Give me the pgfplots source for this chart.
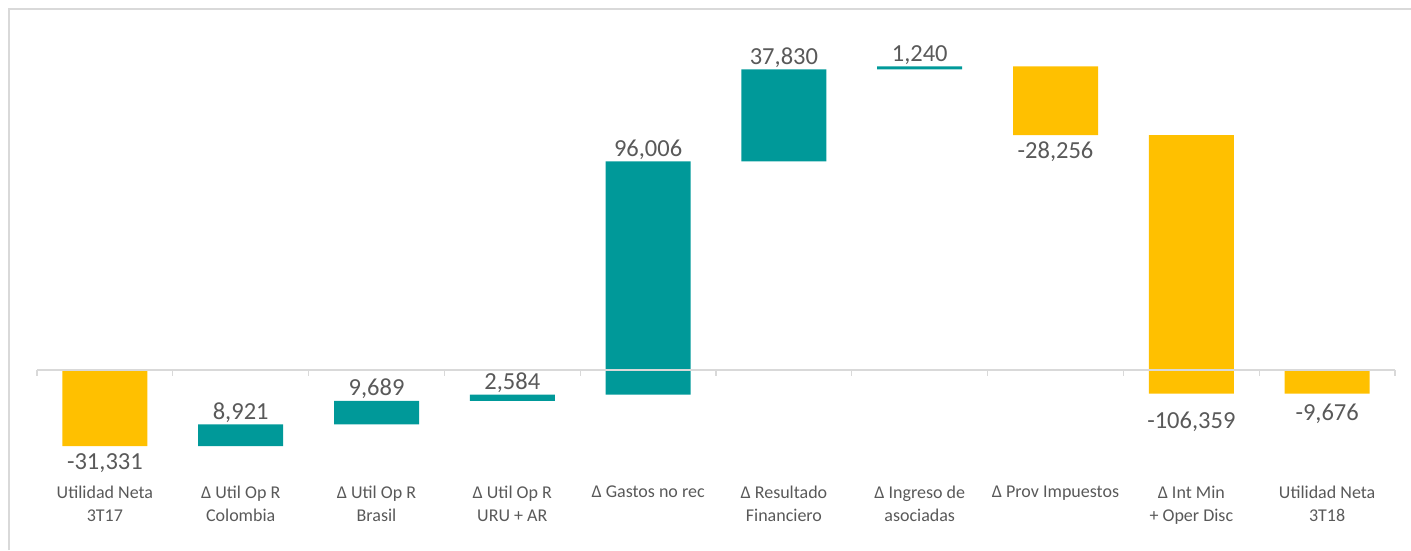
\documentclass[border=0pt]{standalone}
\usepackage{pgfplots}
\usepackage{pgfplotstable}
\pgfplotsset{compat=1.18}
\usepackage{fontspec}
\setmainfont{Carlito}
\definecolor{tealc}{RGB}{0,153,153}
\definecolor{gold}{RGB}{255,192,0}
\definecolor{txt}{RGB}{89,89,89}
\definecolor{axg}{RGB}{217,217,217}

\pgfplotstableread{
x lo up dn
0 -31331 0 31331
1 -31331 8921 0
2 -22410 9689 0
3 -12721 2584 0
4 -10137 96006 0
5 85869 37830 0
6 123699 1240 0
7 96683 0 28256
8 -9676 0 106359
9 -9676 0 9676
}\wf

\pgfplotstableread{
x y lab
1 -22410 8,921
2 -12721 9,689
3 -10137 2,584
4 85869 96,006
5 123699 37,830
6 124939 1,240
}\labup

\pgfplotstableread{
x y lab
0 -31331 -31,331
7 96683 -28,256
}\labdn

\pgfplotstableread{
x y lab
9 -9676 -9,676
}\labdnb

\pgfplotstableread{
x y lab
8 -9676 -106,359
}\labdnc

\pgfplotstableread{
x y
-0.5 -2500
0.5 -2500
1.5 -2500
2.5 -2500
3.5 -2500
4.5 -2500
5.5 -2500
6.5 -2500
7.5 -2500
8.5 -2500
9.5 -2500
}\tks

\pgfplotsset{wfall/.style={
  scale only axis, width=1358pt, height=458pt,
  at={(37pt,72pt)}, anchor=south west,
  xmin=-0.5, xmax=9.5, ymin=-44444, ymax=144033,
  axis line style={draw=none}, tick style={draw=none},
  ytick=\empty, clip=false},
  vlab/.style={draw=none, mark=none, nodes near coords, point meta=explicit symbolic}}

\begin{document}
\begin{tikzpicture}[x=1pt,y=1pt]
\useasboundingbox (0,0) rectangle (1411,550);
\draw[axg, line width=2.5pt] (9,0) -- (9,541) -- (1411,541);

\begin{axis}[wfall, xtick=\empty, ybar stacked, stack negative=on previous, bar width=0.626]
\addplot[draw=none, fill=none] table[x=x, y=lo]{\wf};
\addplot[draw=none, fill=tealc] table[x=x, y=up]{\wf};
\addplot[draw=none, fill=gold] table[x=x, y=dn]{\wf};
\end{axis}

\begin{axis}[wfall,
  xtick={0,...,9},
  xticklabels={{Utilidad Neta\\3T17},{Δ Util Op R\\Colombia},{Δ Util Op R\\Brasil},{Δ Util Op R\\URU + AR},{Δ Gastos no rec},{Δ Resultado\\Financiero},{Δ Ingreso de\\asociadas},{Δ Prov Impuestos},{Δ Int Min\\+ Oper Disc},{Utilidad Neta\\3T18}},
  xticklabel style={align=center, font=\fontsize{18}{22.5}\selectfont, text=txt, inner sep=3pt, yshift=-5pt}]
\addplot[axg, line width=1.3pt, no marks] coordinates {(-0.5,0) (9.5,0)};
\addplot[ycomb, axg, line width=1.2pt, no marks] table[x=x,y=y]{\tks};
\addplot[vlab, nodes near coords style={anchor=south, font=\fontsize{24.5}{28}\selectfont, text=txt, inner sep=2pt}]
  table[x=x, y=y, meta=lab]{\labup};
\addplot[vlab, nodes near coords style={anchor=north, font=\fontsize{24.5}{28}\selectfont, text=txt, inner sep=2pt, yshift=-5pt}]
  table[x=x, y=y, meta=lab]{\labdn};
\addplot[vlab, nodes near coords style={anchor=north, font=\fontsize{24.5}{28}\selectfont, text=txt, inner sep=2pt, yshift=-8pt}]
  table[x=x, y=y, meta=lab]{\labdnb};
\addplot[vlab, nodes near coords style={anchor=north, font=\fontsize{24.5}{28}\selectfont, text=txt, inner sep=2pt, yshift=-16pt}]
  table[x=x, y=y, meta=lab]{\labdnc};
\end{axis}
\end{tikzpicture}
\end{document}
